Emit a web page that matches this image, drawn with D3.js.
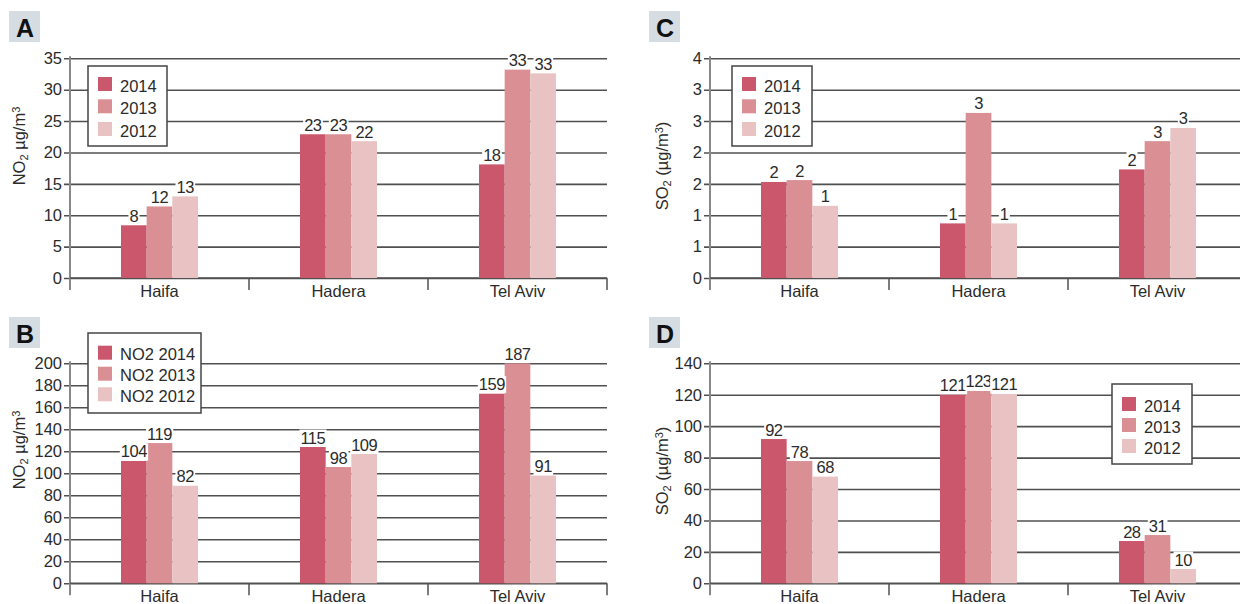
<!DOCTYPE html>
<html lang="en">
<head>
<meta charset="UTF-8">
<title>NO2 / SO2 by city</title>
<script src="https://d3js.org/d3.v7.min.js"></script>
<style>
  body { margin: 0; background: #fff; }
  svg { display: block; font-family: "Liberation Sans", Arial, sans-serif; }
  .tick text, .bar-label, .cat-label, .legend text, .y-title { fill: #2b2b2b; font-size: 16.5px; }
  .bar-label { letter-spacing: -0.5px; }
</style>
</head>
<body>
<svg id="chart" width="1240" height="604"></svg>
<script>
// ---------- data ----------
const cities = ["Haifa", "Hadera", "Tel Aviv"];
const years = ["2014", "2013", "2012"];

// A: NO2 annual mean
const no2Mean2014 = [8.4, 22.9, 18.1];
const no2Mean2013 = [11.4, 22.9, 33.2];
const no2Mean2012 = [13.0, 21.8, 32.6];
const no2MeanLabels2014 = ["8", "23", "18"];
const no2MeanLabels2013 = ["12", "23", "33"];
const no2MeanLabels2012 = ["13", "22", "33"];
const no2MeanTicks = [0, 5, 10, 15, 20, 25, 30, 35];
const no2MeanTickLabels = ["0", "5", "10", "15", "20", "25", "30", "35"];

// B: NO2 peak
const no2Peak2014 = [111.2, 123.9, 172.4];
const no2Peak2013 = [127.5, 105.7, 200.0];
const no2Peak2012 = [88.7, 117.5, 97.9];
const no2PeakLabels2014 = ["104", "115", "159"];
const no2PeakLabels2013 = ["119", "98", "187"];
const no2PeakLabels2012 = ["82", "109", "91"];
const no2PeakTicks = [0, 20, 40, 60, 80, 100, 120, 140, 160, 180, 200];
const no2PeakTickLabels = ["0", "20", "40", "60", "80", "100", "120", "140", "160", "180", "200"];

// C: SO2 annual mean
const so2Mean2014 = [1.53, 0.87, 1.73];
const so2Mean2013 = [1.56, 2.63, 2.18];
const so2Mean2012 = [1.15, 0.87, 2.39];
const so2MeanLabels2014 = ["2", "1", "2"];
const so2MeanLabels2013 = ["2", "3", "3"];
const so2MeanLabels2012 = ["1", "1", "3"];
const so2MeanTicks = [0, 0.5, 1, 1.5, 2, 2.5, 3, 3.5];
const so2MeanTickLabels = ["0", "1", "1", "2", "2", "3", "3", "4"];

// D: SO2 peak
const so2Peak2014 = [91.8, 120.0, 26.9];
const so2Peak2013 = [77.8, 122.4, 30.7];
const so2Peak2012 = [67.9, 120.5, 9.1];
const so2PeakLabels2014 = ["92", "121", "28"];
const so2PeakLabels2013 = ["78", "123", "31"];
const so2PeakLabels2012 = ["68", "121", "10"];
const so2PeakTicks = [0, 20, 40, 60, 80, 100, 120, 140];
const so2PeakTickLabels = ["0", "20", "40", "60", "80", "100", "120", "140"];

const legendYears = ["2014", "2013", "2012"];
const legendNo2Years = ["NO2 2014", "NO2 2013", "NO2 2012"];

// ---------- style ----------
const COLORS = ["#ca576c", "#d98f94", "#e9c3c3"];
const GRID = "#505050";
const AXIS = "#888";

const svg = d3.select("#chart");

const panels = [
  { letter: "A", box: [9, 11], x0: 70, yTop: 58.3, y0: 278, max: 35,
    ticks: no2MeanTicks, tickLabels: no2MeanTickLabels,
    series: [no2Mean2014, no2Mean2013, no2Mean2012],
    labels: [no2MeanLabels2014, no2MeanLabels2013, no2MeanLabels2012],
    title: ["NO", "2", "  µg/m", "3", ""], titlePos: [25, 146],
    legendNames: legendYears, legend: { x: 88, y: 66, w: 79, h: 80, sx: 98, sy: [77, 99.3, 122] } },
  { letter: "C", box: [649, 11], x0: 710, yTop: 58.3, y0: 278, max: 3.5,
    ticks: so2MeanTicks, tickLabels: so2MeanTickLabels,
    series: [so2Mean2014, so2Mean2013, so2Mean2012],
    labels: [so2MeanLabels2014, so2MeanLabels2013, so2MeanLabels2012],
    title: ["SO", "2", "  (µg/m", "3", ")"], titlePos: [668, 166],
    legendNames: legendYears, legend: { x: 732, y: 66, w: 80, h: 80, sx: 742, sy: [77, 99.3, 122] } },
  { letter: "B", box: [9, 317], x0: 70, yTop: 363.3, y0: 583.3, max: 200,
    ticks: no2PeakTicks, tickLabels: no2PeakTickLabels,
    series: [no2Peak2014, no2Peak2013, no2Peak2012],
    labels: [no2PeakLabels2014, no2PeakLabels2013, no2PeakLabels2012],
    title: ["NO", "2", " µg/m", "3", ""], titlePos: [25, 450],
    legendNames: legendNo2Years, legend: { x: 88, y: 333, w: 113, h: 80, sx: 98, sy: [345.7, 366.7, 387.3] } },
  { letter: "D", box: [649, 317], x0: 710, yTop: 363.3, y0: 583.3, max: 140,
    ticks: so2PeakTicks, tickLabels: so2PeakTickLabels,
    series: [so2Peak2014, so2Peak2013, so2Peak2012],
    labels: [so2PeakLabels2014, so2PeakLabels2013, so2PeakLabels2012],
    title: ["SO", "2", "  (µg/m", "3", ")"], titlePos: [668, 471],
    legendNames: legendYears, legend: { x: 1112, y: 384, w: 80, h: 80, sx: 1122, sy: [397, 418, 439] } }
];

const BAND = 179;

panels.forEach(p => {
  const w = BAND * cities.length;
  const x = d3.scaleBand().domain(cities).range([p.x0, p.x0 + w]);
  const xYear = d3.scaleBand().domain(years).range([0, 77]);
  const y = d3.scaleLinear().domain([0, p.max]).range([p.y0, p.yTop]);
  const g = svg.append("g");

  // panel letter
  g.append("rect")
    .attr("x", p.box[0]).attr("y", p.box[1])
    .attr("width", 31).attr("height", 31)
    .attr("fill", "#d5dde3");
  g.append("text")
    .attr("x", p.box[0] + 16).attr("y", p.box[1] + 25.5)
    .attr("text-anchor", "middle")
    .attr("font-size", "25px").attr("font-weight", "bold")
    .attr("fill", "#111")
    .text(p.letter);

  // y axis with grid lines
  const ya = g.append("g")
    .attr("transform", `translate(${p.x0},0)`)
    .call(d3.axisLeft(y).tickValues(p.ticks).tickFormat((d, i) => p.tickLabels[i]).tickSize(6));
  ya.select(".domain").remove();
  ya.selectAll(".tick line")
    .attr("x1", -6).attr("x2", w)
    .attr("stroke", GRID).attr("stroke-width", 1.6);
  ya.selectAll(".tick text")
    .attr("x", -8)
    .attr("font-family", null).attr("font-size", null);

  // vertical axis line + x baseline + separators
  g.append("line")
    .attr("x1", p.x0).attr("x2", p.x0)
    .attr("y1", p.yTop - 2).attr("y2", p.y0 + 12)
    .attr("stroke", AXIS).attr("stroke-width", 2);
  const bounds = cities.map(c => x(c)).concat([x.range()[1]]);
  g.selectAll(".sep").data(bounds.slice(1)).join("line")
    .attr("x1", d => d).attr("x2", d => d)
    .attr("y1", p.y0).attr("y2", p.y0 + 12)
    .attr("stroke", GRID).attr("stroke-width", 1.5);
  g.append("line")
    .attr("x1", p.x0).attr("x2", p.x0 + w)
    .attr("y1", p.y0).attr("y2", p.y0)
    .attr("stroke", GRID).attr("stroke-width", 1.6);

  // bars
  const off = (x.bandwidth() - 77) / 2;
  years.forEach((yr, si) => {
    g.selectAll(`.bar-${yr}`).data(p.series[si]).join("rect")
      .attr("x", (d, i) => x(cities[i]) + off + xYear(yr))
      .attr("y", d => y(d))
      .attr("width", xYear.bandwidth())
      .attr("height", d => p.y0 - y(d))
      .attr("fill", COLORS[si]);
  });

  // value labels with white backing
  years.forEach((yr, si) => {
    p.series[si].forEach((v, i) => {
      const lg = g.append("g");
      const t = lg.append("text")
        .attr("class", "bar-label")
        .attr("x", x(cities[i]) + off + xYear(yr) + xYear.bandwidth() / 2)
        .attr("y", y(v) - 3.5)
        .attr("text-anchor", "middle")
        .text(p.labels[si][i]);
      const b = t.node().getBBox();
      lg.insert("rect", "text")
        .attr("x", b.x - 1).attr("y", b.y + 1)
        .attr("width", b.width + 2).attr("height", b.height - 1)
        .attr("fill", "#fff");
    });
  });

  // category labels
  g.selectAll(".cat-label").data(cities).join("text")
    .attr("class", "cat-label")
    .attr("x", d => x(d) + x.bandwidth() / 2)
    .attr("y", p.y0 + 19)
    .attr("text-anchor", "middle")
    .text(d => d);

  // y title
  const tt = g.append("text")
    .attr("class", "y-title")
    .attr("transform", `translate(${p.titlePos[0]},${p.titlePos[1]}) rotate(-90)`)
    .attr("text-anchor", "middle");
  tt.append("tspan").text(p.title[0]);
  tt.append("tspan").attr("font-size", "11px").attr("dy", 3).text(p.title[1]);
  tt.append("tspan").attr("dy", -3).text(p.title[2]);
  tt.append("tspan").attr("font-size", "11px").attr("dy", -5).text(p.title[3]);
  tt.append("tspan").attr("dy", 5).text(p.title[4]);

  // legend
  const L = p.legend;
  const lg = g.append("g").attr("class", "legend");
  lg.append("rect")
    .attr("x", L.x).attr("y", L.y).attr("width", L.w).attr("height", L.h)
    .attr("fill", "#fff").attr("stroke", "#444").attr("stroke-width", 1.5);
  p.legendNames.forEach((name, i) => {
    lg.append("rect")
      .attr("x", L.sx).attr("y", L.sy[i])
      .attr("width", 14).attr("height", 14)
      .attr("fill", COLORS[i]);
    lg.append("text")
      .attr("x", L.sx + 22).attr("y", L.sy[i] + 14.5)
      .text(name);
  });
});
</script>
</body>
</html>
